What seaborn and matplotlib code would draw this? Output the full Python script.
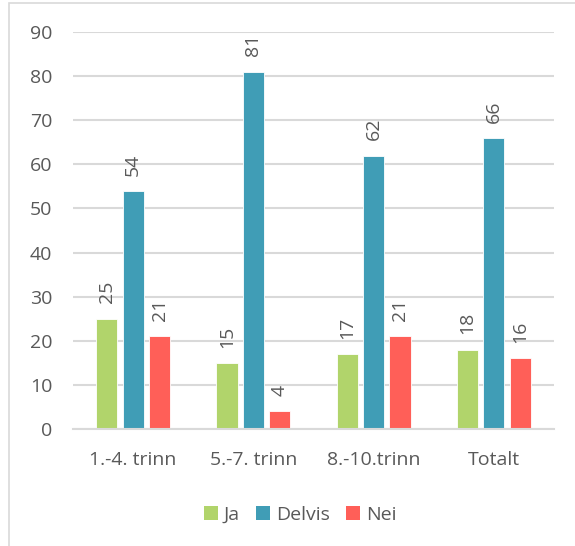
import matplotlib
matplotlib.use("Agg")
import matplotlib.pyplot as plt
from matplotlib.patches import Rectangle
import pandas as pd
import seaborn as sns

# Survey answers per school stage (percent)
categories = ["1.-4. trinn", "5.-7. trinn", "8.-10.trinn", "Totalt"]
series = ["Ja", "Delvis", "Nei"]
ja = [25, 15, 17, 18]
delvis = [54, 81, 62, 66]
nei = [21, 4, 21, 16]
y_ticks = [0, 10, 20, 30, 40, 50, 60, 70, 80, 90]

colors = {"Ja": "#B1D46B", "Delvis": "#409DB6", "Nei": "#FF5F58"}
text_color = "#595959"
grid_color = "#D9D9D9"

rows = []
for name, vals in zip(series, [ja, delvis, nei]):
    for cat, v in zip(categories, vals):
        rows.append({"Trinn": cat, "Svar": name, "Prosent": v})
df = pd.DataFrame(rows)

sns.set_theme(style="white")
plt.rcParams["font.family"] = ["Open Sans", "DejaVu Sans"]

fig = plt.figure(figsize=(5.75, 5.46), dpi=100)
ax = fig.add_axes([73 / 575, 1 - 429 / 546, (554 - 73) / 575, (429 - 32) / 546])

sns.barplot(data=df, x="Trinn", y="Prosent", hue="Svar", order=categories,
            hue_order=series, palette=colors, width=0.66, gap=0.2,
            edgecolor="white", linewidth=0.6, saturation=1, ax=ax)

for cont in ax.containers:
    ax.bar_label(cont, labels=[f"{int(v)}" for v in cont.datavalues],
                 rotation=90, padding=11, fontsize=14, color=text_color)

ax.set_ylim(0, 90)
ax.set_yticks(y_ticks)
ax.set_yticklabels([str(t) for t in y_ticks])
ax.set_xlim(-0.5, len(categories) - 0.5)
ax.set_xlabel("")
ax.set_ylabel("")
ax.yaxis.grid(True, color=grid_color, linewidth=1.5)
ax.set_axisbelow(True)
for side in ["top", "right", "left"]:
    ax.spines[side].set_visible(False)
ax.spines["bottom"].set_color(grid_color)
ax.spines["bottom"].set_linewidth(1.5)
ax.tick_params(axis="y", length=0, pad=15, labelsize=14, labelcolor=text_color)
ax.tick_params(axis="x", length=0, pad=16, labelsize=14, labelcolor=text_color)

ax.get_legend().remove()
handles = [Rectangle((0, 0), 1, 1, facecolor=colors[s], edgecolor="none") for s in series]
fig.legend(handles, series, loc="center", bbox_to_anchor=(300 / 575, 1 - 515 / 546),
           ncol=3, frameon=False, fontsize=14, labelcolor=text_color,
           handlelength=0.75, handleheight=0.75, handletextpad=0.3, columnspacing=0.8)

# Chart frame
fig.patches.append(Rectangle((9 / 575, -0.05), 1.2, 1.05 - 3 / 546, transform=fig.transFigure,
                             fill=False, edgecolor=grid_color, linewidth=1.2))

fig.savefig("out.png", dpi=100)
